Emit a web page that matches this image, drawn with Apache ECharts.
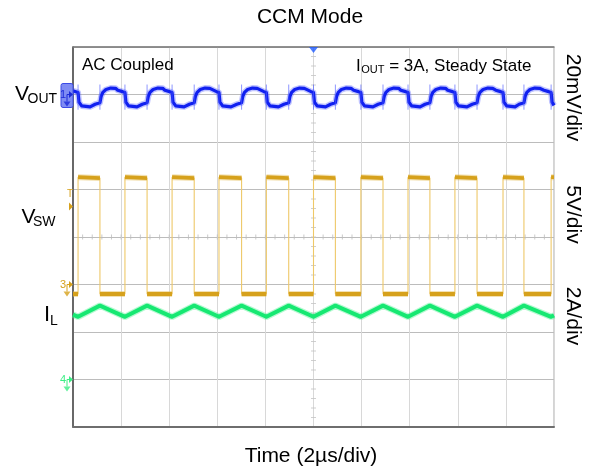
<!DOCTYPE html>
<html><head><meta charset="utf-8">
<script src="https://cdn.jsdelivr.net/npm/echarts@6/dist/echarts.min.js"></script>
<style>html,body{margin:0;padding:0;background:#fff}#c{width:597px;height:472px}</style>
</head><body><div id="c"></div>
<script>
// ---------- data ----------
// time axis: µs, 10 divisions of 2 µs
const timeMin = 0, timeMax = 20, timeStep = 2;
// switch node edges (µs)
const swRise = [0.21, 2.16, 4.12, 6.07, 8.04, 10.0, 11.97, 13.93, 15.88, 17.88, 19.88];
const swFall = [1.12, 3.08, 5.04, 7.01, 8.97, 10.91, 12.89, 14.84, 16.80, 18.75];
// switch node levels (V)
const swHigh = 11.3, swHighEnd = 11.2, swLow = -1.0;
// inductor current (A): troughs at rising edges, peaks at falling edges
const ilPeak = 3.11, ilTrough = 2.64, ilStart = 2.73, ilEnd = 2.70;
// output ripple (mV), shape read around each edge: [offset µs, mV]
const voutAtRise = [[-0.3, 1.8], [-0.1, 1.2], [0, 0.8], [0.04, -3.2], [0.15, -4.8], [0.5, -5.2]];
const voutAtFall = [[-0.2, -4.1], [0, -3.5], [0.05, -0.8], [0.12, 0.9], [0.25, 2.1], [0.45, 2.7], [0.65, 2.6]];
const voutStart = 1.6, voutEnd = -4.6;
const voutSpike = [4.2, -6.4];
// channel scales: [min, max] so that ground sits on the marked division
const voutRange = [-140, 20];   // 20 mV/div, ground at div 7
const swRange = [-15, 25];      // 5 V/div, ground at div 3
const ilRange = [-2, 14];       // 2 A/div, ground at div 1
const trigLevel = 8.2;          // V
// texts
const titleText = 'CCM Mode';
const xName = 'Time (2µs/div)';
const scaleLabels = ['20mV/div', '5V/div', '2A/div'];

// ---------- build traces ----------
const events = swRise.map(t => ({t, k: 'r'})).concat(swFall.map(t => ({t, k: 'f'}))).sort((a, b) => a.t - b.t);
const swThin = [[timeMin, swLow]], swThick = [[timeMin, swLow]];
const ilPts = [[timeMin, ilStart]];
const voutPts = [[timeMin, voutStart]];
const spikes = [];
let lastHigh = swHigh;
events.forEach(e => {
  if (e.k === 'r') {
    swThin.push([e.t, swLow], [e.t, swHigh]);
    swThick.push([e.t, swLow], [e.t, '-'], [e.t, swHigh]);
    ilPts.push([e.t, ilTrough]);
    voutAtRise.forEach(p => { const t = e.t + p[0]; if (t > timeMin && t < timeMax) voutPts.push([t, p[1]]); });
    lastHigh = swHigh;
  } else {
    swThin.push([e.t, swHighEnd], [e.t, swLow]);
    swThick.push([e.t, swHighEnd], [e.t, '-'], [e.t, swLow]);
    ilPts.push([e.t, ilPeak]);
    voutAtFall.forEach(p => { const t = e.t + p[0]; if (t > timeMin && t < timeMax) voutPts.push([t, p[1]]); });
  }
  spikes.push([e.t, voutSpike[0]], [e.t, voutSpike[1]], [e.t, '-']);
});
swThin.push([timeMax, lastHigh]); swThick.push([timeMax, lastHigh]);
ilPts.push([timeMax, ilEnd]);
voutPts.push([timeMax, voutEnd]);

const hTicks = [], vTicks = [];
for (let i = 1; i < 50; i++) hTicks.push([i * 0.4, 4]);
for (let i = 1; i < 40; i++) vTicks.push([10, i * 0.2]);

const FONT = '"Liberation Sans", Arial, sans-serif';
const el = document.getElementById('c');
const chart = echarts.init(el, null, {renderer: 'canvas'});

const lineBase = {type: 'line', showSymbol: false, symbol: 'none', animation: false, xAxisIndex: 0};
const option = {
  animation: false,
  backgroundColor: '#fff',
  grid: {left: 73, right: 43, top: 47, bottom: 45, show: true, borderColor: '#a8a8a8', borderWidth: 1, backgroundColor: 'transparent'},
  xAxis: [
    {type: 'value', min: timeMin, max: timeMax, interval: timeStep, position: 'bottom',
     axisLine: {show: true, onZero: false, lineStyle: {color: '#6e6e6e', width: 2}},
     axisTick: {show: false}, axisLabel: {show: false},
     splitLine: {show: true, lineStyle: {color: '#d8d8d8', width: 1}}},
    {type: 'value', min: timeMin, max: timeMax, position: 'top',
     axisLine: {show: true, onZero: false, lineStyle: {color: '#7a7a7a', width: 1.5}},
     axisTick: {show: false}, axisLabel: {show: false}, splitLine: {show: false}}
  ],
  yAxis: [
    {type: 'value', min: 0, max: 8, interval: 1, position: 'left',
     axisLine: {show: true, onZero: false, lineStyle: {color: '#444', width: 1.5}},
     axisTick: {show: false}, axisLabel: {show: false},
     splitLine: {show: true, lineStyle: {color: '#bcbcbc', width: 1}}},
    {type: 'value', min: voutRange[0], max: voutRange[1], show: false, splitLine: {show: false}},
    {type: 'value', min: swRange[0], max: swRange[1], show: false, splitLine: {show: false}},
    {type: 'value', min: ilRange[0], max: ilRange[1], show: false, splitLine: {show: false}}
  ],
  series: [
    {type: 'scatter', yAxisIndex: 0, data: hTicks, symbol: 'rect', symbolSize: [1, 5], itemStyle: {color: '#bdbdbd'}, silent: true, animation: false, z: 1},
    {type: 'scatter', yAxisIndex: 0, data: vTicks, symbol: 'rect', symbolSize: [5, 1], itemStyle: {color: '#c4c4c4'}, silent: true, animation: false, z: 1},
    Object.assign({}, lineBase, {yAxisIndex: 1, data: voutPts, z: 3, lineStyle: {color: '#4a55ff', width: 6, opacity: 0.35, join: 'round'}}),
    Object.assign({}, lineBase, {yAxisIndex: 1, data: voutPts, z: 4, lineStyle: {color: '#1020f0', width: 3.2, join: 'round'}}),
    Object.assign({}, lineBase, {yAxisIndex: 1, data: spikes, z: 4, lineStyle: {color: '#4c5aff', width: 0.8, opacity: 0.8}}),
    Object.assign({}, lineBase, {yAxisIndex: 2, data: swThin, z: 3, lineStyle: {color: '#eec868', width: 1.1}}),
    Object.assign({}, lineBase, {yAxisIndex: 2, data: swThick, z: 3, lineStyle: {color: '#e4bd55', width: 6, opacity: 0.45, cap: 'butt'}}),
    Object.assign({}, lineBase, {yAxisIndex: 2, data: swThick, z: 4, lineStyle: {color: '#d6a11c', width: 3.8, cap: 'butt'}}),
    Object.assign({}, lineBase, {yAxisIndex: 3, data: ilPts, z: 3, lineStyle: {color: '#4af08e', width: 6.5, opacity: 0.4}}),
    Object.assign({}, lineBase, {yAxisIndex: 3, data: ilPts, z: 4, lineStyle: {color: '#16e872', width: 4, join: 'round'}}),
    {type: 'scatter', yAxisIndex: 0, data: [[10, 8]], clip: false, symbol: 'path://M0,0 L10,0 L5,7 Z', symbolSize: [9, 6], symbolOffset: [0, 3], itemStyle: {color: '#1f5bff'}, z: 6, animation: false}
  ]
};
chart.setOption(option);

// ---------- annotations (positions via the chart's own scales) ----------
const yv = chart.convertToPixel({yAxisIndex: 1}, 0);
const ys = chart.convertToPixel({yAxisIndex: 2}, 0);
const yi = chart.convertToPixel({yAxisIndex: 3}, 0);
const yt = chart.convertToPixel({yAxisIndex: 2}, trigLevel);
const xl = chart.convertToPixel({xAxisIndex: 0}, timeMin);

const mctx = document.createElement('canvas').getContext('2d');
function tw(txt, size) { mctx.font = size + 'px ' + FONT; return mctx.measureText(txt).width; }

function txt(text, x, y, size, opts) {
  return {type: 'text', x: x, y: y, silent: true, z: 10,
    style: Object.assign({text: text, font: size + 'px ' + FONT, fill: '#000', align: 'left', verticalAlign: 'middle'}, opts || {})};
}
function marker(num, y, color) {
  const x0 = xl;
  return [
    txt(num, x0 - 10, y, 11, {fill: color, align: 'center'}),
    {type: 'polyline', silent: true, z: 10, shape: {points: [[x0 - 6, y + 7], [x0 - 6, y], [x0 - 3, y]]}, style: {stroke: color, lineWidth: 1, fill: null}},
    {type: 'polygon', silent: true, z: 10, shape: {points: [[x0 - 4, y - 3.5], [x0, y], [x0 - 4, y + 3.5]]}, style: {fill: color}},
    {type: 'polygon', silent: true, z: 10, shape: {points: [[x0 - 9.5, y + 7], [x0 - 2.5, y + 7], [x0 - 6, y + 12]]}, style: {fill: color, opacity: 0.8}}
  ];
}

const g = [];
// title & axis name
g.push(txt(titleText, 310, 17, 21, {align: 'center'}));
g.push(txt(xName, 311, 456, 21, {align: 'center'}));
// left channel labels
g.push(txt('V', 15, 94.5, 21));
g.push(txt('OUT', 27.5, 99.5, 14));
g.push(txt('V', 21.5, 217, 21));
g.push(txt('SW', 33, 222, 14));
g.push(txt('I', 44, 315, 22));
g.push(txt('L', 50, 321, 14));
// right scale labels (rotated)
g.push(Object.assign(txt(scaleLabels[0], 573, 97.5, 21, {align: 'center'}), {rotation: -Math.PI / 2}));
g.push(Object.assign(txt(scaleLabels[1], 573, 214.5, 21, {align: 'center'}), {rotation: -Math.PI / 2}));
g.push(Object.assign(txt(scaleLabels[2], 573, 316, 21, {align: 'center'}), {rotation: -Math.PI / 2}));
// in-plot notes
g.push(txt('AC Coupled', 82, 65, 17));
let ix = 356;
g.push(txt('I', ix, 66, 17)); ix += tw('I', 17) + 0.5;
g.push(txt('OUT', ix, 70, 11)); ix += tw('OUT', 11);
g.push(txt(' = 3A, Steady State', ix, 66, 17));
// channel 1 marker (blue box)
g.push({type: 'rect', silent: true, z: 9, shape: {x: xl - 12, y: yv - 11, width: 12, height: 24, r: 2}, style: {fill: '#7f8cf3', stroke: '#3b4ae6', lineWidth: 1}});
g.push(...marker('1', yv, '#1c2bd8'));
// channel 3 marker + trigger
g.push(...marker('3', ys, '#d6a11c'));
g.push(txt('T', xl - 3, yt - 12, 10, {fill: '#d6a11c', align: 'center'}));
g.push({type: 'polygon', silent: true, z: 10, shape: {points: [[xl - 4, yt - 4], [xl, yt], [xl - 4, yt + 4]]}, style: {fill: '#d6a11c'}});
// channel 4 marker
g.push(...marker('4', yi, '#3cee85'));

chart.setOption({graphic: g});
</script>
</body></html>
